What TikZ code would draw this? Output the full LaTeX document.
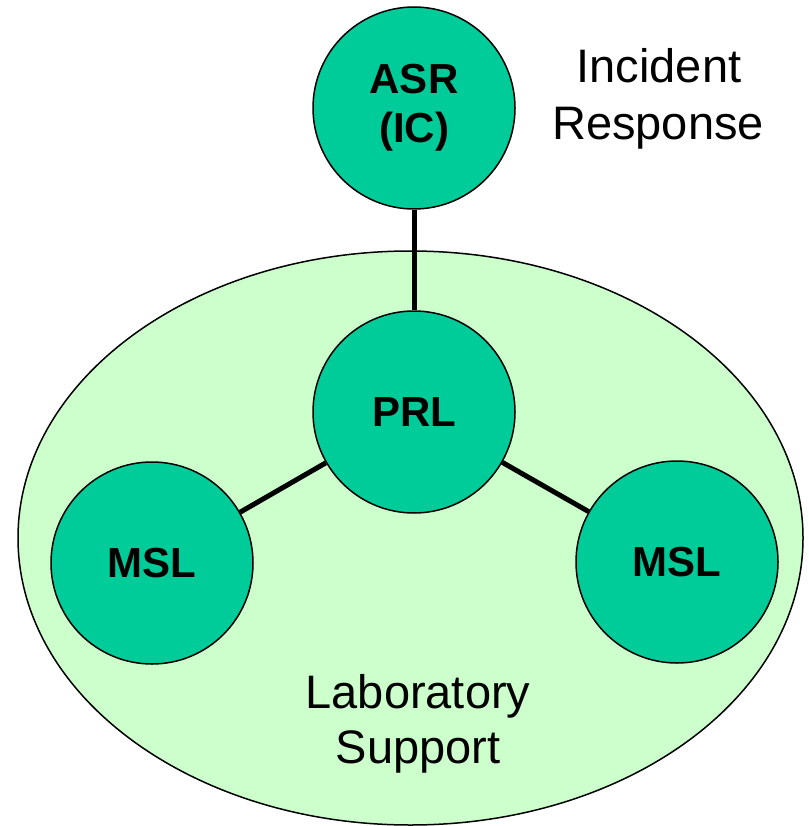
\documentclass[tikz,border=0pt]{standalone}
\usepackage{fontspec}
\setmainfont{Liberation Sans}
\usetikzlibrary{shapes.geometric}
\definecolor{teal1}{HTML}{00CC99}
\definecolor{pale}{HTML}{CCFFCC}
\begin{document}
\begin{tikzpicture}[x=1pt,y=-1pt,
  unit/.style={circle,draw=black,line width=1.5pt,fill=teal1,minimum size=202pt,inner sep=0pt,
    font=\fontsize{42}{49}\selectfont\bfseries,align=center},
  link/.style={line width=5pt},
  caption/.style={font=\fontsize{47}{56}\selectfont,anchor=base,inner sep=0pt}]
\useasboundingbox (0,0) rectangle (808,826);
\node[ellipse,draw=black,line width=1.5pt,fill=pale,minimum width=785pt,minimum height=574pt,inner sep=0pt] (lab) at (410.5,538) {};
\node[unit] (asr) at (414,108) {ASR\\(IC)};
\node[unit] (prl) at (414,412) {PRL};
\node[unit] (msl1) at (152,563) {MSL};
\node[unit] (msl2) at (677,562) {MSL};
\draw[link] (asr) -- (prl);
\draw[link] (prl) -- (msl1);
\draw[link] (prl) -- (msl2);
\node[caption] (inc1) at (659,83) {Incident};
\node[caption] (inc2) at (658,140) {Response};
\node[caption] (lab1) at (418,708) {Laboratory};
\node[caption] (lab2) at (418,763) {Support};
\end{tikzpicture}
\end{document}
